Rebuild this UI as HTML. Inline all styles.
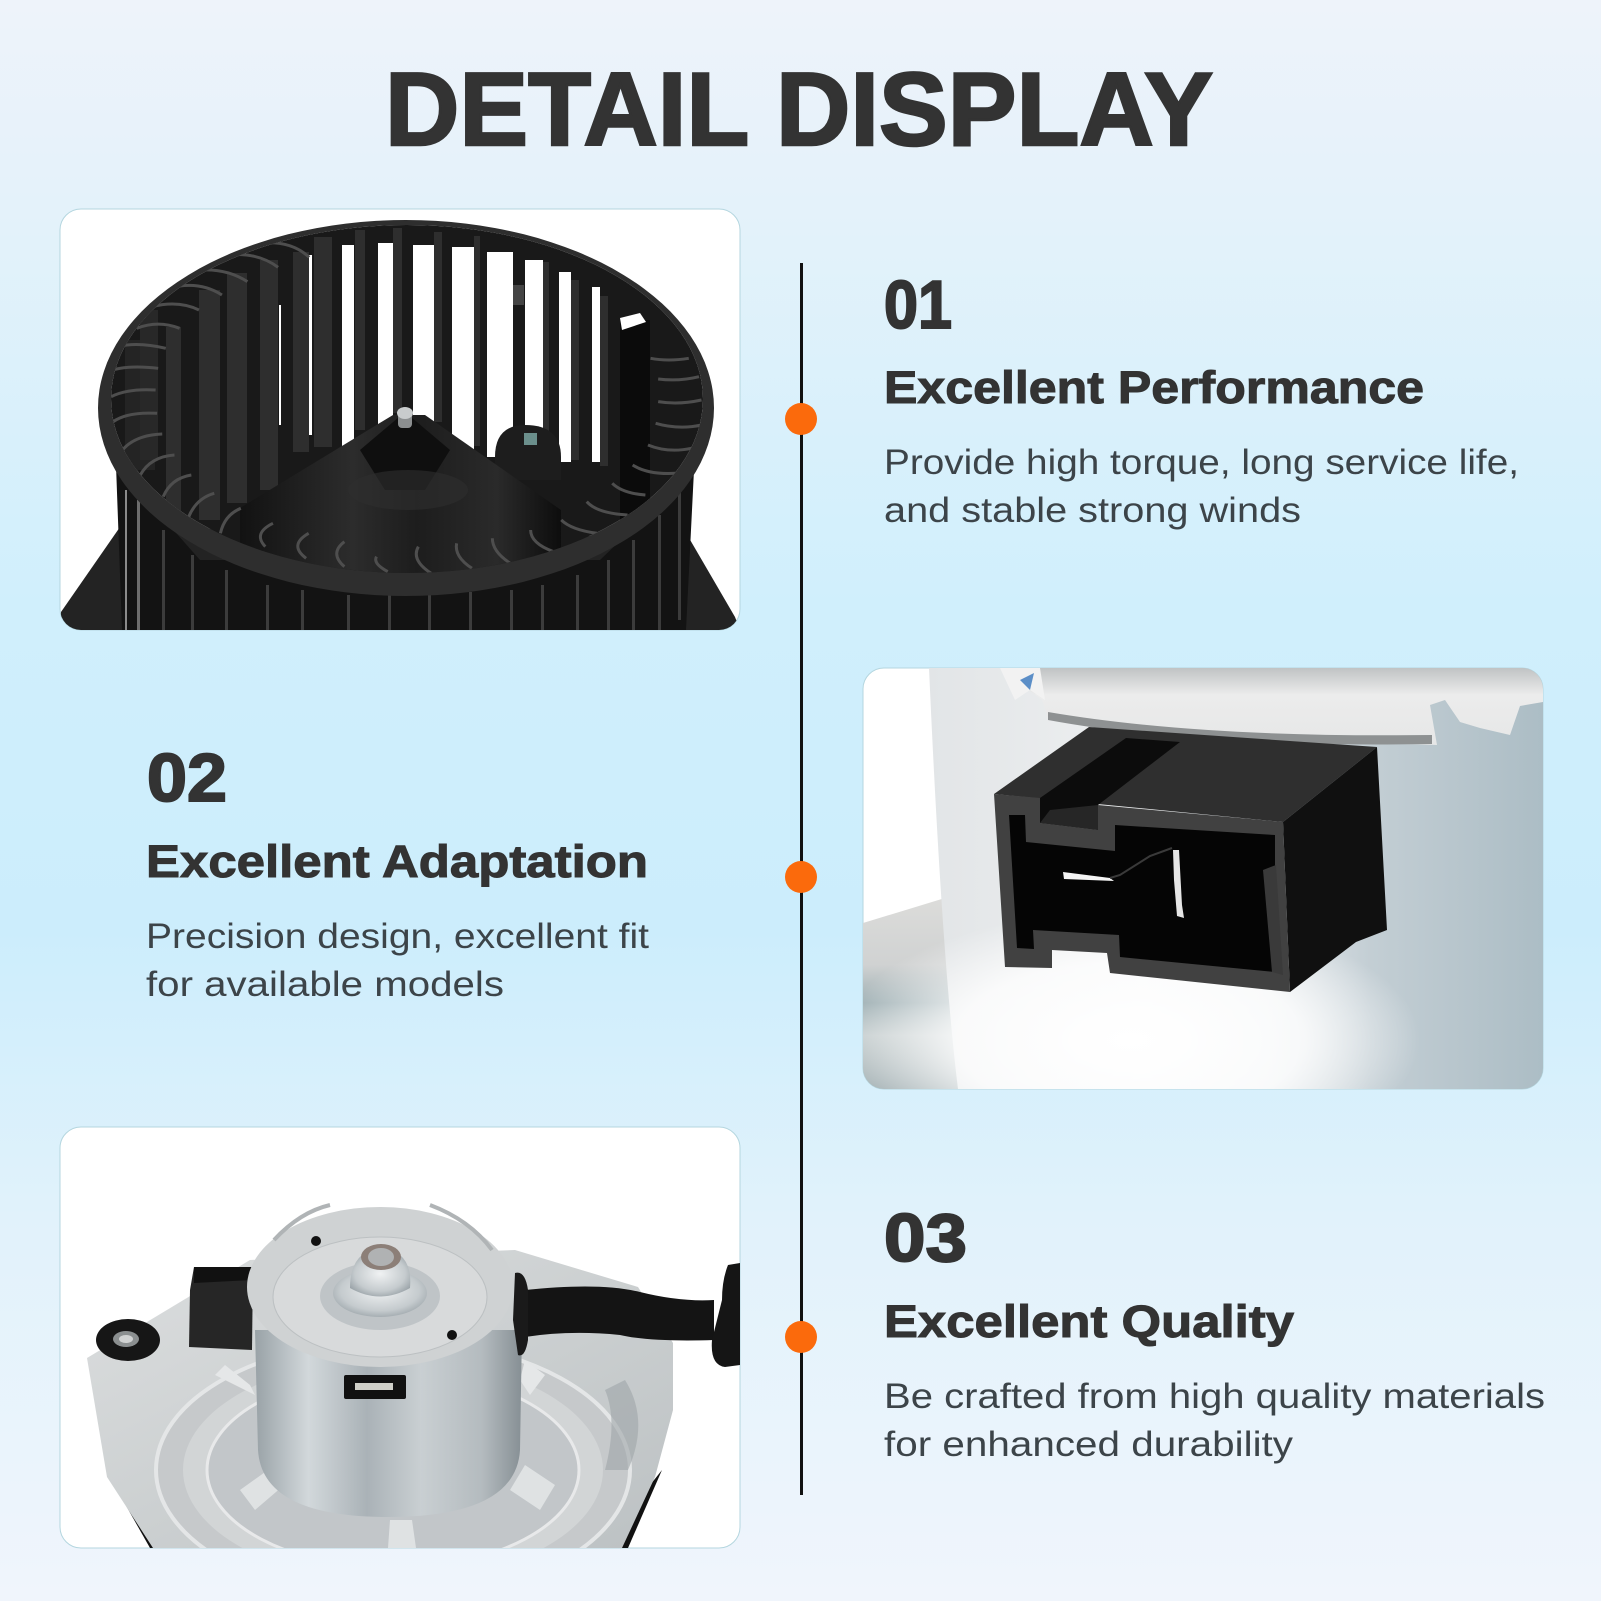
<!DOCTYPE html>
<html><head><meta charset="utf-8"><title>Detail Display</title>
<style>html,body{margin:0;padding:0;background:#dff1fb}svg{display:block}
text{font-family:"Liberation Sans",Arial,sans-serif}
.n{font-weight:700;fill:#333;stroke:#333;stroke-width:2px}
.h{font-weight:700;fill:#333;stroke:#333;stroke-width:1px}
.d{fill:#3c4449}
.a path{fill:none;stroke:#4e4e4e;stroke-width:3px;vector-effect:non-scaling-stroke}
</style></head><body>
<svg width="1601" height="1601" viewBox="0 0 1601 1601" xmlns="http://www.w3.org/2000/svg">
<defs>
<linearGradient id="bg" x1="0" y1="0" x2="0" y2="1">
<stop offset="0" stop-color="#eef3fa"/><stop offset=".13" stop-color="#e4f2fa"/><stop offset=".38" stop-color="#d0effc"/><stop offset=".58" stop-color="#ccedfc"/><stop offset=".76" stop-color="#e1f2fb"/><stop offset="1" stop-color="#f0f5fc"/>
</linearGradient>
<clipPath id="c1"><rect x="60" y="209" width="680" height="421" rx="21"/></clipPath>
<clipPath id="c2"><rect x="863" y="668" width="680" height="421" rx="21"/></clipPath>
<clipPath id="c3"><rect x="60" y="1127" width="680" height="421" rx="21"/></clipPath>
<clipPath id="inner"><ellipse cx="407" cy="399" rx="296" ry="174"/></clipPath>
<linearGradient id="cone" x1="0" y1="0" x2="1" y2="0">
<stop offset="0" stop-color="#121212"/><stop offset=".35" stop-color="#2c2c2c"/><stop offset=".55" stop-color="#1d1d1d"/><stop offset=".8" stop-color="#2a2a2a"/><stop offset="1" stop-color="#0d0d0d"/>
</linearGradient>
<linearGradient id="can" x1="0" y1="0" x2="1" y2="0">
<stop offset="0" stop-color="#e2e5e7"/><stop offset=".35" stop-color="#eef0f1"/><stop offset=".55" stop-color="#e2e7ea"/><stop offset=".72" stop-color="#c3ced4"/><stop offset="1" stop-color="#acbdc5"/>
</linearGradient>
<radialGradient id="canb" cx=".5" cy=".5" r=".5">
<stop offset="0" stop-color="#fff" stop-opacity="1"/><stop offset=".6" stop-color="#fff" stop-opacity=".8"/><stop offset="1" stop-color="#fff" stop-opacity="0"/>
</radialGradient>
<linearGradient id="side" x1="0" y1="0" x2="0" y2="1">
<stop offset="0" stop-color="#dcdcda"/><stop offset=".35" stop-color="#d0d2d2"/><stop offset=".55" stop-color="#9fb0b4"/><stop offset=".72" stop-color="#c4cccd"/><stop offset="1" stop-color="#a5b2b5"/>
</linearGradient>
<linearGradient id="lid" x1="0" y1="0" x2="0" y2="1">
<stop offset="0" stop-color="#c0c3c4"/><stop offset=".35" stop-color="#ececec"/><stop offset="1" stop-color="#e6e7e7"/>
</linearGradient>
<linearGradient id="motor" x1="0" y1="0" x2="1" y2="0">
<stop offset="0" stop-color="#99a2a7"/><stop offset=".2" stop-color="#d2d8db"/><stop offset=".42" stop-color="#aab2b7"/><stop offset=".62" stop-color="#c9cfd2"/><stop offset=".85" stop-color="#b4bbbf"/><stop offset="1" stop-color="#868f94"/>
</linearGradient>
<linearGradient id="plate" x1="0" y1="0" x2="1" y2="1">
<stop offset="0" stop-color="#dcdedf"/><stop offset=".5" stop-color="#ccd0d1"/><stop offset="1" stop-color="#bcc1c3"/>
</linearGradient>
<radialGradient id="hub" cx=".5" cy=".45" r=".6">
<stop offset="0" stop-color="#f0f2f3"/><stop offset=".7" stop-color="#c5cbce"/><stop offset="1" stop-color="#9aa3a8"/>
</radialGradient>
</defs>
<rect width="1601" height="1601" fill="url(#bg)"/>

<text x="385" y="145" font-size="104" textLength="828" lengthAdjust="spacingAndGlyphs" font-weight="700" fill="#333" stroke="#333" stroke-width="2.5">DETAIL DISPLAY</text>

<!-- timeline -->
<rect x="800" y="263" width="3" height="1232" fill="#111"/>
<ellipse cx="801" cy="419" rx="16" ry="16" fill="#fb6a0c"/>
<ellipse cx="801" cy="877" rx="16" ry="16" fill="#fb6a0c"/>
<ellipse cx="801" cy="1337" rx="16" ry="16" fill="#fb6a0c"/>

<!-- text blocks -->
<text class="n" x="884" y="328" font-size="68" textLength="68" lengthAdjust="spacingAndGlyphs">01</text>
<text class="h" x="884" y="403" font-size="45" textLength="540" lengthAdjust="spacingAndGlyphs">Excellent Performance</text>
<text class="d" x="884" y="474" font-size="35" textLength="635" lengthAdjust="spacingAndGlyphs">Provide high torque, long service life,</text>
<text class="d" x="884" y="522" font-size="35" textLength="417" lengthAdjust="spacingAndGlyphs">and stable strong winds</text>

<text class="n" x="147" y="801" font-size="68" textLength="80" lengthAdjust="spacingAndGlyphs">02</text>
<text class="h" x="146" y="877" font-size="45" textLength="502" lengthAdjust="spacingAndGlyphs">Excellent Adaptation</text>
<text class="d" x="146" y="948" font-size="35" textLength="503" lengthAdjust="spacingAndGlyphs">Precision design, excellent fit</text>
<text class="d" x="146" y="996" font-size="35" textLength="358" lengthAdjust="spacingAndGlyphs">for available models</text>

<text class="n" x="884" y="1261" font-size="68" textLength="83" lengthAdjust="spacingAndGlyphs">03</text>
<text class="h" x="884" y="1337" font-size="45" textLength="410" lengthAdjust="spacingAndGlyphs">Excellent Quality</text>
<text class="d" x="884" y="1408" font-size="35" textLength="661" lengthAdjust="spacingAndGlyphs">Be crafted from high quality materials</text>
<text class="d" x="884" y="1456" font-size="35" textLength="409" lengthAdjust="spacingAndGlyphs">for enhanced durability</text>

<!-- CARD 1: fan -->
<rect x="60" y="209" width="680" height="421" rx="21" fill="#fff" stroke="#b4d6df" stroke-width="1"/>
<g clip-path="url(#c1)">
<path d="M120 527 L61 612 L60 630 L740 630 L735 617 L689 538 Z" fill="#232323"/>
<path d="M116 465 L122 630 L686 630 L694 470 L600 560 L200 560 Z" fill="#131313"/>
<g fill="#3c3c3c">
<rect x="137" y="500" width="3" height="130" fill="#6d6d6d"/><rect x="125" y="490" width="2" height="140" fill="#8a8a8a"/>
<rect x="162" y="530" width="3" height="100"/><rect x="191" y="555" width="3" height="75"/><rect x="225" y="570" width="3" height="60"/>
<rect x="266" y="585" width="3" height="45"/><rect x="301" y="590" width="3" height="40"/><rect x="347" y="595" width="3" height="35"/>
<rect x="388" y="595" width="3" height="35"/><rect x="428" y="595" width="3" height="35"/><rect x="469" y="592" width="3" height="38"/>
<rect x="510" y="590" width="3" height="40"/><rect x="541" y="585" width="3" height="45"/><rect x="576" y="575" width="3" height="55"/>
<rect x="607" y="560" width="3" height="70"/><rect x="632" y="540" width="3" height="90"/><rect x="658" y="515" width="3" height="115"/><rect x="678" y="490" width="3" height="130"/>
</g>
<g clip-path="url(#inner)">
<rect x="100" y="220" width="620" height="360" fill="#191919"/>
<g fill="#2e2e2e">
<rect x="166" y="327" width="15" height="200"/><rect x="199" y="290" width="21" height="230"/><rect x="227" y="273" width="20" height="230"/>
<rect x="260" y="260" width="18" height="230"/><rect x="293" y="252" width="16" height="200"/><rect x="314" y="237" width="18" height="210"/>
<rect x="355" y="230" width="10" height="200"/><rect x="393" y="228" width="9" height="185"/><rect x="434" y="232" width="8" height="190"/>
<rect x="474" y="236" width="6" height="210"/><rect x="543" y="262" width="6" height="190"/><rect x="571" y="280" width="8" height="180"/><rect x="600" y="296" width="8" height="170"/>
</g>
<rect x="125" y="340" width="30" height="130" fill="#242424"/>
<rect x="140" y="310" width="18" height="150" fill="#282828"/>
<rect x="620" y="320" width="30" height="240" fill="#0b0b0b"/>
<g fill="#fff">
<rect x="342" y="245" width="12" height="205"/><rect x="378" y="243" width="15" height="205"/><rect x="413" y="245" width="21" height="205"/>
<rect x="452" y="247" width="22" height="205"/><rect x="487" y="252" width="26" height="205"/><rect x="525" y="260" width="18" height="200"/>
<rect x="559" y="272" width="12" height="190"/><rect x="592" y="287" width="8" height="175"/><rect x="309" y="255" width="3" height="180"/><rect x="279" y="305" width="2" height="120"/>
<path d="M620 318 L640 313 L646 322 L622 330Z"/>
</g>
<rect x="513" y="285" width="11" height="20" fill="#444"/>
<path d="M495 457 Q495 425 525 425 Q561 425 561 457 L561 480 L495 480Z" fill="#1d1d1d"/>
<rect x="524" y="433" width="13" height="12" fill="#6b8f8c"/>
<path d="M393 415 L240 508 L240 575 L561 575 L561 510 L425 415 Z" fill="url(#cone)"/>
<path d="M360 450 L405 412 L450 450 L425 490 L385 490Z" fill="#0f0f0f"/>
<ellipse cx="408" cy="490" rx="60" ry="20" fill="#2f2f2f" opacity=".6"/>
<rect x="398" y="412" width="14" height="16" rx="4" fill="#8c8f90"/>
<ellipse cx="405" cy="413" rx="8" ry="6" fill="#c9cccd"/>
<g class="a" transform="translate(0,180) scale(.5102,.3333)">
<path d="M230 500Q270 485 325 505"/><path d="M220 570Q255 555 310 565"/><path d="M218 650Q250 625 305 630"/><path d="M222 725Q250 695 308 700"/><path d="M240 810Q265 765 318 762"/><path d="M275 885Q295 830 342 825"/><path d="M320 950Q335 895 375 885"/><path d="M370 1010Q385 955 420 940"/><path d="M432 1060Q440 1005 472 985"/>
<path d="M268 445Q310 420 352 445"/><path d="M298 380Q350 360 390 390"/><path d="M330 325Q390 300 435 345"/><path d="M378 272Q440 260 485 305"/><path d="M430 228Q500 210 545 262"/><path d="M510 190Q570 180 606 232"/>
<path d="M520 1100Q495 1060 535 1030"/><path d="M600 1135Q565 1095 605 1060"/><path d="M675 1160Q645 1120 675 1085"/><path d="M760 1175Q730 1150 738 1130"/><path d="M845 1180Q805 1140 820 1100"/><path d="M925 1165Q890 1130 895 1090"/><path d="M1000 1150Q965 1115 965 1075"/><path d="M1085 1115Q1040 1090 1040 1050"/>
<path d="M1170 1060Q1120 1050 1100 1020"/><path d="M1230 1005Q1170 1000 1150 965"/><path d="M1265 945Q1220 940 1200 910"/><path d="M1325 880Q1270 885 1240 855"/><path d="M1355 805Q1310 820 1270 795"/><path d="M1375 735Q1330 750 1285 730"/><path d="M1375 660Q1330 675 1290 665"/><path d="M1370 590Q1330 605 1290 597"/><path d="M1350 535Q1310 545 1275 535"/>
</g>
</g>
<path fill-rule="evenodd" d="M98 408a308 188 0 1 0 616 0a308 188 0 1 0 -616 0Z M111 399a296 174 0 1 1 592 0a296 174 0 1 1 -592 0Z" fill="#2e2e2e"/>
</g>

<!-- CARD 2: connector -->
<rect x="863" y="668" width="680" height="421" rx="21" fill="#fff" stroke="#b4d6df" stroke-width="1"/>
<g clip-path="url(#c2)">
<path d="M863 923 L945 898 L960 1089 L863 1089Z" fill="url(#side)"/>
<path d="M929 668 L1543 668 L1543 1089 L958 1089 Q942 960 929 668Z" fill="url(#can)"/>
<ellipse cx="1130" cy="1040" rx="290" ry="130" fill="url(#canb)"/>
<path d="M1000 668 L1543 668 L1543 702 L1520 706 L1510 735 L1480 728 L1460 722 L1445 700 L1430 705 L1437 745 L1400 744 Q1200 740 1048 718 L1042 700 Z" fill="url(#lid)"/>
<path d="M1048 712 Q1200 738 1432 735 L1432 744 Q1200 748 1048 720Z" fill="#8e9192"/>
<path d="M1000 668 L1015 700 L1030 690 L1045 700 L1040 668Z" fill="#f2f2f2"/>
<path d="M1020 680 L1034 673 L1030 690 Z" fill="#5b8ec7"/>
<path d="M994 794 L1089 727 L1377 747 L1283 822Z" fill="#2f2f2f"/>
<path d="M1283 822 L1377 747 L1387 930 L1356 942 L1290 992Z" fill="#101010"/>
<path d="M994 794 L1040 798 L1040 823 L1098 830 L1098 805 L1283 822 L1290 992 L1110 973 L1107 953 L1052 950 L1052 968 L1005 967Z" fill="#414141"/>
<path d="M1040 798 L1040 823 L1098 830 L1098 805 L1180 742 L1126 738Z" fill="#0c0c0c"/>
<path d="M1040 823 L1098 830 L1098 805 L1050 810Z" fill="#262626"/>
<path d="M1009 815 L1025 815 L1026 842 L1115 851 L1115 825 L1275 835 L1275 972 L1120 957 L1119 935 L1033 930 L1034 949 L1017 948Z" fill="#050505"/>
<path d="M1063 872 L1110 878 L1114 881 L1064 879Z" fill="#f5f5f5"/>
<path d="M1110 878 L1120 875 L1150 856 L1172 848" fill="none" stroke="#3a3a3a" stroke-width="2"/>
<path d="M1173 850 L1179 850 L1182 905 L1184 918 L1177 916 L1174 880Z" fill="#e6e6e6"/>
<path d="M1263 870 L1276 865 L1283 975 L1272 972Z" fill="#3a3a3a"/>
</g>

<!-- CARD 3: motor -->
<rect x="60" y="1127" width="680" height="421" rx="21" fill="#fff" stroke="#b4d6df" stroke-width="1"/>
<g clip-path="url(#c3)">
<path d="M120 1495 L150 1548 L175 1548Z" fill="#111"/>
<path d="M662 1470 L628 1548 L600 1548Z" fill="#111"/>
<path d="M87 1358 L250 1260 L515 1250 L638 1287 L673 1343 L673 1410 L655 1477 L622 1548 L153 1548 L107 1477Z" fill="url(#plate)"/>
<ellipse cx="393" cy="1470" rx="237" ry="130" fill="#c6c9cb" stroke="#e4e6e7" stroke-width="4"/>
<ellipse cx="393" cy="1470" rx="210" ry="112" fill="#d2d5d6"/>
<ellipse cx="393" cy="1470" rx="186" ry="98" fill="#c2c6c9" stroke="#e8e9ea" stroke-width="3"/>
<path d="M625 1380 Q650 1420 628 1470 L605 1470 Q618 1420 605 1390Z" fill="#9fa5a8" opacity=".6"/>
<path d="M215 1375 L255 1395 L250 1385 L225 1365Z" fill="#e5e7e8"/>
<path d="M525 1360 L545 1375 L530 1395 L520 1380Z" fill="#e5e7e8"/>
<path d="M240 1490 L275 1465 L290 1480 L255 1510Z" fill="#dfe2e3"/>
<path d="M525 1465 L555 1485 L540 1510 L510 1490Z" fill="#dfe2e3"/>
<path d="M390 1520 L412 1520 L416 1548 L388 1548Z" fill="#dfe2e3"/>
<path d="M255 1330 L258 1450 Q262 1517 388 1517 Q516 1517 520 1450 L522 1330Z" fill="url(#motor)"/>
<ellipse cx="128" cy="1340" rx="32" ry="21" fill="#161616"/>
<ellipse cx="126" cy="1339" rx="13" ry="8" fill="#8b8f90"/>
<ellipse cx="126" cy="1339" rx="7" ry="4" fill="#d0d2d2"/>
<path d="M194 1267 L253 1267 L252 1350 L189 1347 L190 1290Z" fill="#262626"/>
<path d="M194 1267 L253 1267 L252 1280 L194 1283Z" fill="#111"/>
<path d="M525 1290 Q600 1282 640 1292 Q680 1302 714 1300 L714 1340 Q650 1342 620 1335 Q570 1330 525 1337Z" fill="#141414"/>
<path d="M515 1273 Q525 1270 528 1290 L528 1340 Q525 1358 518 1355 L513 1320Z" fill="#1a1a1a"/>
<path d="M740 1263 L728 1265 Q722 1280 722 1300 L712 1340 Q710 1365 725 1367 L740 1365Z" fill="#151515"/>
<ellipse cx="380" cy="1287" rx="133" ry="80" fill="#cfd2d3"/>
<path d="M274 1240 Q300 1212 330 1205 M430 1205 Q470 1220 492 1250" fill="none" stroke="#b0b4b6" stroke-width="4"/>
<ellipse cx="380" cy="1297" rx="107" ry="60" fill="#d8dadb" stroke="#bcc0c2" stroke-width="1"/>
<ellipse cx="380" cy="1296" rx="60" ry="34" fill="#bfc4c7"/>
<ellipse cx="380" cy="1293" rx="47" ry="24" fill="url(#hub)"/>
<path d="M350 1288 Q350 1265 362 1255 L400 1255 Q412 1265 410 1288 Q380 1305 350 1288Z" fill="url(#hub)"/>
<ellipse cx="381" cy="1257" rx="20" ry="13" fill="#8c7f78"/>
<ellipse cx="381" cy="1257" rx="13" ry="9" fill="#b0b2b3"/>
<circle cx="316" cy="1241" r="5" fill="#111"/><circle cx="452" cy="1335" r="5" fill="#111"/>
<rect x="344" y="1375" width="62" height="24" rx="2" fill="#111"/>
<rect x="355" y="1383" width="38" height="7" fill="#cfcfc8"/>
</g>
</svg>
</body></html>
